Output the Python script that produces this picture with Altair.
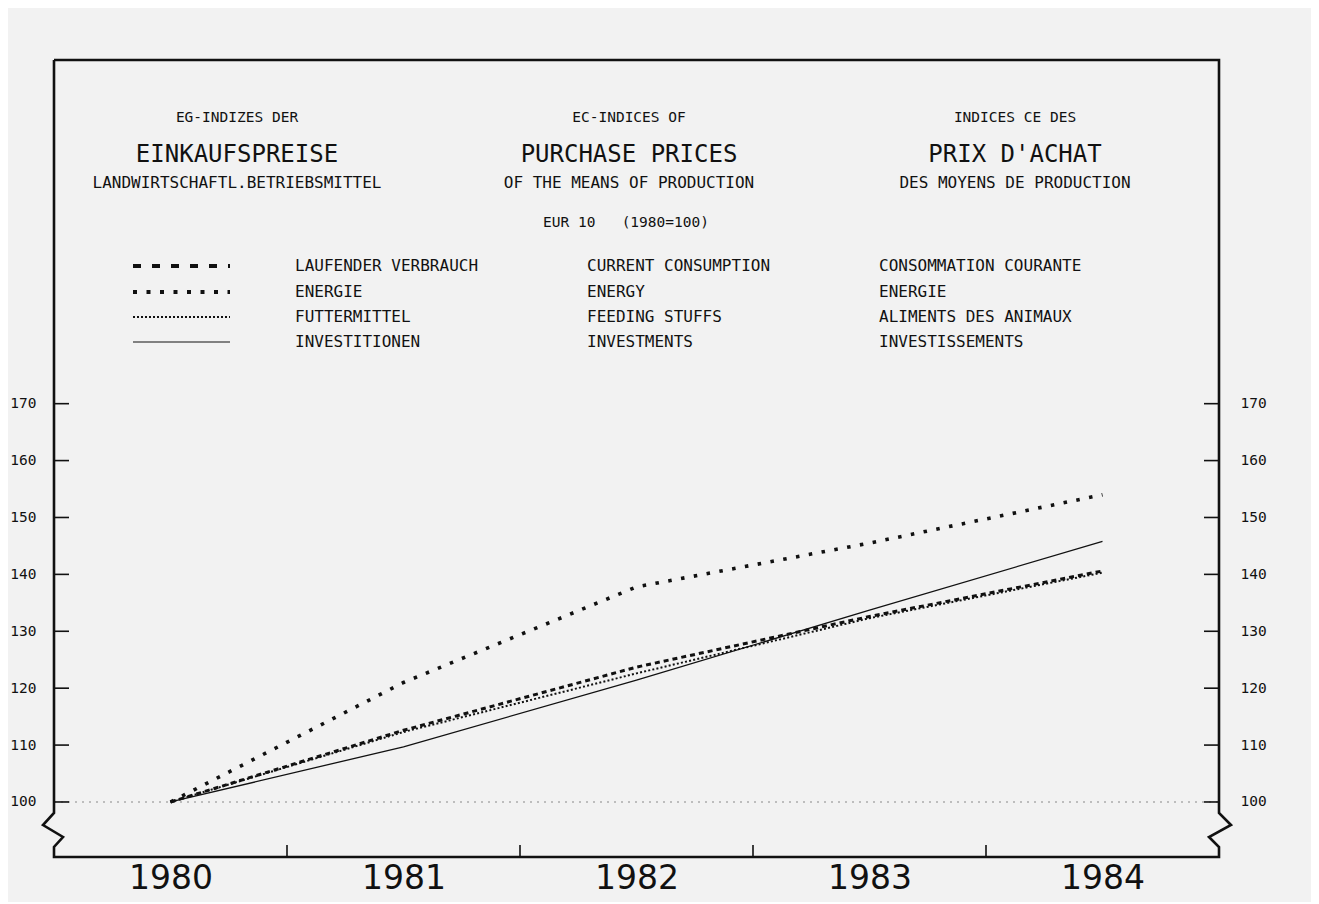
import altair as alt
import pandas as pd

# ---------------- data ----------------
YEARS = [1980, 1981, 1982, 1983, 1984]
LAUFENDER = [100.0, 112.6, 123.7, 132.6, 140.6]
ENERGIE = [100.0, 121.0, 137.8, 145.5, 154.0]
FUTTER = [100.0, 112.3, 122.6, 132.3, 140.3]
INVEST = [100.0, 109.7, 121.4, 133.7, 145.8]
BASE = [100]
Y_TICKS = [100, 110, 120, 130, 140, 150, 160, 170]
X_TICKS = [1980.5, 1981.5, 1982.5, 1983.5]

SERIES_DE = ["LAUFENDER VERBRAUCH", "ENERGIE", "FUTTERMITTEL", "INVESTITIONEN"]
SERIES_EN = ["CURRENT CONSUMPTION", "ENERGY", "FEEDING STUFFS", "INVESTMENTS"]
SERIES_FR = ["CONSOMMATION COURANTE", "ENERGIE", "ALIMENTS DES ANIMAUX", "INVESTISSEMENTS"]
TITLE_DE = ["EG-INDIZES DER", "EINKAUFSPREISE", "LANDWIRTSCHAFTL.BETRIEBSMITTEL"]
TITLE_EN = ["EC-INDICES OF", "PURCHASE PRICES", "OF THE MEANS OF PRODUCTION"]
TITLE_FR = ["INDICES CE DES", "PRIX D'ACHAT", "DES MOYENS DE PRODUCTION"]
SUBTITLE = "EUR 10\u00a0\u00a0\u00a0(1980=100)"

# ---------------- layout ----------------
W, H = 1165, 797
XMIN, XMAX = 1979.5, 1984.5
YMIN, YMAX = 90.33, 230.4
KX = W / (XMAX - XMIN)
KY = H / (YMAX - YMIN)
FONT = "DejaVu Sans Mono"
INK = "#111111"
BG = "#f2f2f2"

xsc = alt.Scale(domain=[XMIN, XMAX], nice=False, zero=False)
ysc = alt.Scale(domain=[YMIN, YMAX], nice=False, zero=False)


def X(field, axis=None):
    if axis is None:
        return alt.X(field, type="quantitative", scale=xsc, axis=None)
    return alt.X(field, type="quantitative", scale=xsc, axis=axis)


def Y(field, axis=None):
    if axis is None:
        return alt.Y(field, type="quantitative", scale=ysc, axis=None)
    return alt.Y(field, type="quantitative", scale=ysc, axis=axis)


layers = []

# baseline at 100
layers.append(
    alt.Chart(pd.DataFrame({"v": BASE}))
    .mark_rule(color="#888888", strokeWidth=1.2, strokeDash=[2, 5])
    .encode(y=Y("v"), x=alt.value(0), x2=alt.value(W))
)

# series
styles = [
    (LAUFENDER, dict(strokeDash=[5, 4], strokeWidth=3.0)),
    (ENERGIE, dict(strokeDash=[3.5, 9.5], strokeWidth=3.6)),
    (FUTTER, dict(strokeDash=[2, 2.2], strokeWidth=2.0)),
    (INVEST, dict(strokeWidth=1.3)),
]
for vals, st in styles:
    df = pd.DataFrame({"year": YEARS, "value": vals})
    layers.append(
        alt.Chart(df)
        .mark_line(color=INK, **st)
        .encode(x=X("year"), y=Y("value"))
    )

# frame with axis-break zigzags
def fx(p):
    return XMIN + p / KX


def fy(p):
    return YMIN + p / KY  # p measured upwards from plot bottom


y_a, y_b, y_c, y_d = fy(44), fy(32), fy(20), fy(10)
frame_pts = [
    (fx(0), YMAX), (fx(W), YMAX),
    (fx(W), y_a), (fx(W + 12), y_b), (fx(W - 10), y_c), (fx(W), y_d), (fx(W), YMIN),
    (fx(0), YMIN),
    (fx(0), y_d), (fx(9), y_c), (fx(-11), y_b), (fx(0), y_a), (fx(0), YMAX),
]
frame_df = pd.DataFrame({
    "fx": [p[0] for p in frame_pts],
    "fy": [p[1] for p in frame_pts],
    "o": list(range(len(frame_pts))),
})
layers.append(
    alt.Chart(frame_df)
    .mark_line(color=INK, strokeWidth=2.6, strokeJoin="miter")
    .encode(x=X("fx"), y=Y("fy"), order="o:Q")
)

# y ticks + axis labels on both sides
yt = pd.DataFrame({"v": Y_TICKS})
left_axis = alt.Axis(values=Y_TICKS, orient="left", ticks=False, domain=False, grid=False,
                     labelPadding=18, labelFont=FONT, labelFontSize=14.5, labelColor=INK,
                     title=None)
right_axis = alt.Axis(values=Y_TICKS, orient="right", ticks=False, domain=False, grid=False,
                      labelPadding=21, labelFont=FONT, labelFontSize=14.5, labelColor=INK,
                      title=None)
layers.append(
    alt.Chart(yt).mark_rule(color=INK, strokeWidth=1.6)
    .encode(y=Y("v", left_axis), x=alt.value(0), x2=alt.value(15))
)
layers.append(
    alt.Chart(yt).mark_rule(color=INK, strokeWidth=1.6)
    .encode(y=Y("v", right_axis), x=alt.value(W - 15), x2=alt.value(W))
)

# x ticks + year labels
x_axis = alt.Axis(values=YEARS, format="d", orient="bottom", ticks=False, domain=False,
                  grid=False, labelPadding=5, labelFont="DejaVu Sans", labelFontSize=33,
                  labelColor=INK, title=None)
layers.append(
    alt.Chart(pd.DataFrame({"t": X_TICKS})).mark_rule(color=INK, strokeWidth=1.6)
    .encode(x=X("t", x_axis), y=alt.value(H), y2=alt.value(H - 12))
)

# titles
col_x = [183, 575, 961]
row_y = [58, 95, 123]
row_size = [14.5, 24, 16]
for cx, lines in zip(col_x, [TITLE_DE, TITLE_EN, TITLE_FR]):
    for txt, ry, fs in zip(lines, row_y, row_size):
        layers.append(
            alt.Chart(pd.DataFrame({"t": [txt]}))
            .mark_text(font=FONT, fontSize=fs, color=INK, align="center", baseline="middle")
            .encode(text="t:N", x=alt.value(cx), y=alt.value(ry))
        )
layers.append(
    alt.Chart(pd.DataFrame({"t": [SUBTITLE]}))
    .mark_text(font=FONT, fontSize=14.5, color=INK, align="center", baseline="middle")
    .encode(text="t:N", x=alt.value(572), y=alt.value(163))
)

# legend
leg_y = [206, 232, 257, 282]
leg_styles = [
    dict(strokeDash=[8, 11], strokeWidth=3.8),
    dict(strokeDash=[4, 9.5], strokeWidth=4.0),
    dict(strokeDash=[2, 2], strokeWidth=2.2),
    dict(strokeWidth=1.2),
]
for ly, st in zip(leg_y, leg_styles):
    layers.append(
        alt.Chart(pd.DataFrame({"d": [0]}))
        .mark_rule(color=INK, **st)
        .encode(x=alt.value(79), x2=alt.value(176), y=alt.value(ly))
    )
for lx, labels in zip([241, 533, 825], [SERIES_DE, SERIES_EN, SERIES_FR]):
    for ly, txt in zip(leg_y, labels):
        layers.append(
            alt.Chart(pd.DataFrame({"t": [txt]}))
            .mark_text(font=FONT, fontSize=16, color=INK, align="left", baseline="middle")
            .encode(text="t:N", x=alt.value(lx), y=alt.value(ly))
        )

chart = (
    alt.layer(*layers)
    .resolve_axis(y="independent", x="independent")
    .properties(
        width=W, height=H,
        autosize=alt.AutoSizeParams(type="none"),
        padding={"left": 46, "top": 52, "right": 92, "bottom": 45},
        background=BG,
    )
    .configure_view(strokeWidth=0)
)

chart.save("out.html", embed_options={"renderer": "svg", "actions": False})
